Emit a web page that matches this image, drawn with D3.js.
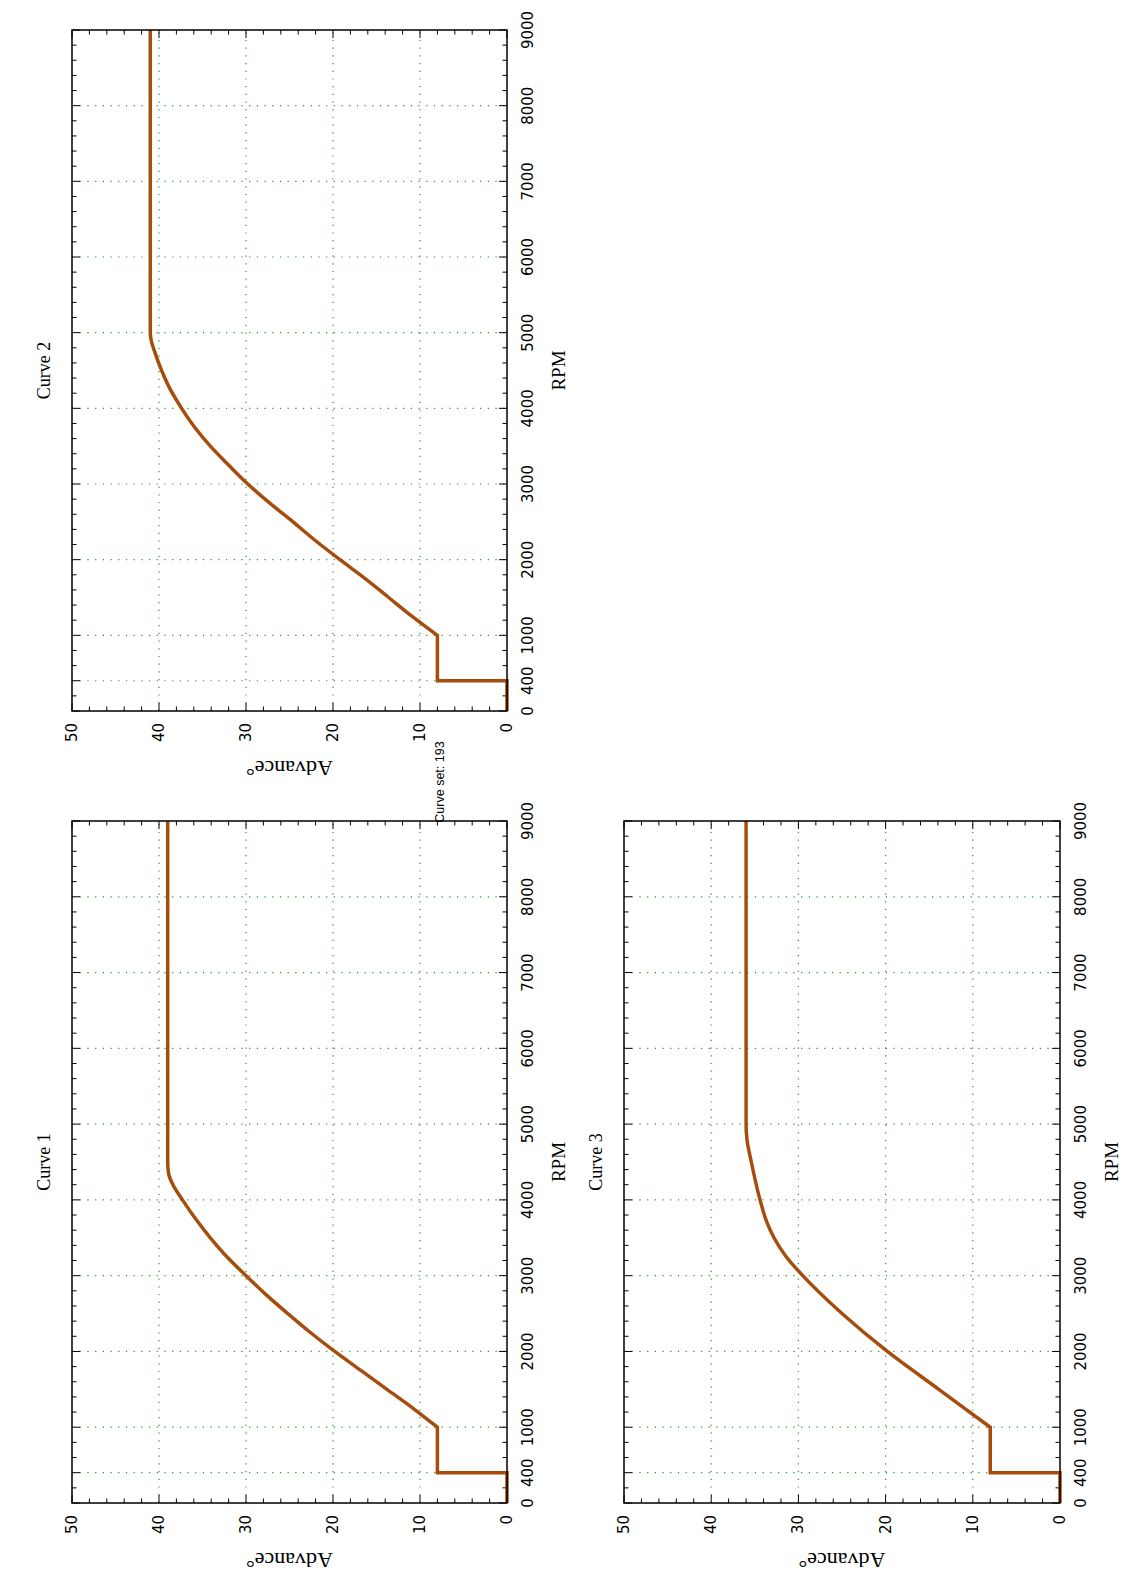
<!DOCTYPE html>
<html>
<head>
<meta charset="utf-8">
<script src="https://cdn.jsdelivr.net/npm/d3@7"></script>
<style>
  body { margin: 0; background: #fff; }
</style>
</head>
<body>
<div id="chart"></div>
<script>
// tick values
const rpmTicks = [0, 400, 1000, 2000, 3000, 4000, 5000, 6000, 7000, 8000, 9000];
const advTicks = [0, 10, 20, 30, 40, 50];
const curveNames = ["Curve 1", "Curve 2", "Curve 3"];
const setTitle = "Curve set: 193";

// advance curves (rpm, degrees)
const curve1Rpm = [0, 400, 400, 1000, 1250, 1500, 1750, 2000, 2250, 2500, 2750, 3000, 3250, 3500, 3750, 4000, 4200, 4350, 4500, 9000];
const curve1Adv = [0, 0, 8, 8, 10.8, 13.8, 16.8, 19.8, 22.6, 25.2, 27.7, 30, 32.2, 34.1, 35.8, 37.3, 38.4, 38.9, 39, 39];

const curve2Rpm = [0, 400, 400, 1000, 1250, 1500, 1750, 2000, 2250, 2500, 2750, 3000, 3250, 3500, 3750, 4000, 4250, 4500, 4750, 4900, 5000, 9000];
const curve2Adv = [0, 0, 8, 8, 10.9, 13.6, 16.3, 19.2, 22, 24.6, 27.3, 29.8, 32, 34.1, 35.9, 37.4, 38.7, 39.7, 40.5, 40.9, 41, 41];

const curve3Rpm = [0, 400, 400, 1000, 1500, 2000, 2500, 3000, 3250, 3500, 3700, 4000, 4500, 4800, 5000, 9000];
const curve3Adv = [0, 0, 8, 8, 13.9, 19.8, 25, 29.5, 31.4, 32.8, 33.6, 34.4, 35.4, 35.9, 36, 36];

const curves = [
  { rpm: curve1Rpm, adv: curve1Adv },
  { rpm: curve2Rpm, adv: curve2Adv },
  { rpm: curve3Rpm, adv: curve3Adv }
];

// page is drawn landscape and turned a quarter turn
const W = 1126, H = 1575;
const panels = [
  { x0: 72, x1: 754, y0: 72, y1: 507 },
  { x0: 864, x1: 1545, y0: 72, y1: 507 },
  { x0: 72, x1: 754, y0: 624, y1: 1060 }
];

const lineColor = "#a64d0d";
const gridColor = "#2f8f2f";
const tickFont = "'DejaVu Sans', sans-serif";
const labelFont = "'Liberation Serif', serif";

const svg = d3.select("#chart").append("svg")
  .attr("width", W)
  .attr("height", H);

const page = svg.append("g")
  .attr("transform", `translate(0,${H}) rotate(-90)`);

page.append("text")
  .attr("x", 793)
  .attr("y", 444)
  .attr("text-anchor", "middle")
  .attr("font-family", "'Liberation Sans', sans-serif")
  .attr("font-size", "12.5px")
  .text(setTitle);

const lineLin = d3.line().curve(d3.curveLinear);
const lineMono = d3.line().curve(d3.curveMonotoneX);

panels.forEach((p, i) => {
  const x = d3.scaleLinear().domain([0, 9000]).range([p.x0, p.x1]);
  const y = d3.scaleLinear().domain([0, 50]).range([p.y1, p.y0]);
  const g = page.append("g");

  // grid
  g.selectAll("line.gx")
    .data(rpmTicks.filter(d => d > 0 && d < 9000))
    .enter().append("line")
    .attr("x1", d => x(d)).attr("x2", d => x(d))
    .attr("y1", p.y0).attr("y2", p.y1)
    .attr("stroke", gridColor).attr("stroke-width", 1.2)
    .attr("stroke-dasharray", "1.2,6.5");
  g.selectAll("line.gy")
    .data(advTicks.filter(d => d > 0 && d < 50))
    .enter().append("line")
    .attr("x1", p.x0).attr("x2", p.x1)
    .attr("y1", d => y(d)).attr("y2", d => y(d))
    .attr("stroke", gridColor).attr("stroke-width", 1.2)
    .attr("stroke-dasharray", "1.2,6.5");

  // ticks, inward on all four sides
  const minorX = d3.range(0, 9001, 200).filter(d => !rpmTicks.includes(d));
  const minorY = d3.range(0, 51, 2).filter(d => !advTicks.includes(d));
  const tickX = rpmTicks.map(d => ({ v: d, len: 8 })).concat(minorX.map(d => ({ v: d, len: 4.5 })));
  const tickY = advTicks.map(d => ({ v: d, len: 8 })).concat(minorY.map(d => ({ v: d, len: 4.5 })));

  tickX.forEach(t => {
    g.append("line").attr("x1", x(t.v)).attr("x2", x(t.v))
      .attr("y1", p.y1).attr("y2", p.y1 - t.len).attr("stroke", "#000");
    g.append("line").attr("x1", x(t.v)).attr("x2", x(t.v))
      .attr("y1", p.y0).attr("y2", p.y0 + t.len).attr("stroke", "#000");
  });
  tickY.forEach(t => {
    g.append("line").attr("x1", p.x0).attr("x2", p.x0 + t.len)
      .attr("y1", y(t.v)).attr("y2", y(t.v)).attr("stroke", "#000");
    g.append("line").attr("x1", p.x1).attr("x2", p.x1 - t.len)
      .attr("y1", y(t.v)).attr("y2", y(t.v)).attr("stroke", "#000");
  });

  // tick labels
  g.selectAll("text.tx")
    .data(rpmTicks)
    .enter().append("text")
    .attr("x", d => x(d))
    .attr("y", p.y1 + 26)
    .attr("text-anchor", "middle")
    .attr("font-family", tickFont)
    .attr("font-size", "15px")
    .text(d => d);
  g.selectAll("text.ty")
    .data(advTicks)
    .enter().append("text")
    .attr("x", p.x0 - 12)
    .attr("y", d => y(d) + 5)
    .attr("text-anchor", "end")
    .attr("font-family", tickFont)
    .attr("font-size", "15px")
    .text(d => d);

  // axis titles
  g.append("text")
    .attr("x", (p.x0 + p.x1) / 2)
    .attr("y", p.y1 + 58)
    .attr("text-anchor", "middle")
    .attr("font-family", labelFont)
    .attr("font-size", "19px")
    .text("RPM");
  g.append("text")
    .attr("transform", `translate(${p.x0 - 50},${(p.y0 + p.y1) / 2}) rotate(-90)`)
    .attr("text-anchor", "middle")
    .attr("font-family", labelFont)
    .attr("font-size", "22px")
    .text("Advance°");
  g.append("text")
    .attr("x", (p.x0 + p.x1) / 2)
    .attr("y", p.y0 - 22)
    .attr("text-anchor", "middle")
    .attr("font-family", labelFont)
    .attr("font-size", "18px")
    .text(curveNames[i]);

  // the curve: flat start and step drawn straight, the rise smoothed
  const c = curves[i];
  const pts = c.rpm.map((r, k) => [x(r), y(c.adv[k])]);
  const stepPts = pts.slice(0, 4);
  const risePts = pts.slice(3);
  g.append("path")
    .attr("d", lineLin(stepPts) + lineMono(risePts).replace(/^M[^LC]*/, ""))
    .attr("fill", "none")
    .attr("stroke", lineColor)
    .attr("stroke-width", 3.5)
    .attr("stroke-linejoin", "miter");

  // frame
  g.append("rect")
    .attr("x", p.x0).attr("y", p.y0)
    .attr("width", p.x1 - p.x0).attr("height", p.y1 - p.y0)
    .attr("fill", "none").attr("stroke", "#000").attr("stroke-width", 1.5);
});
</script>
</body>
</html>
